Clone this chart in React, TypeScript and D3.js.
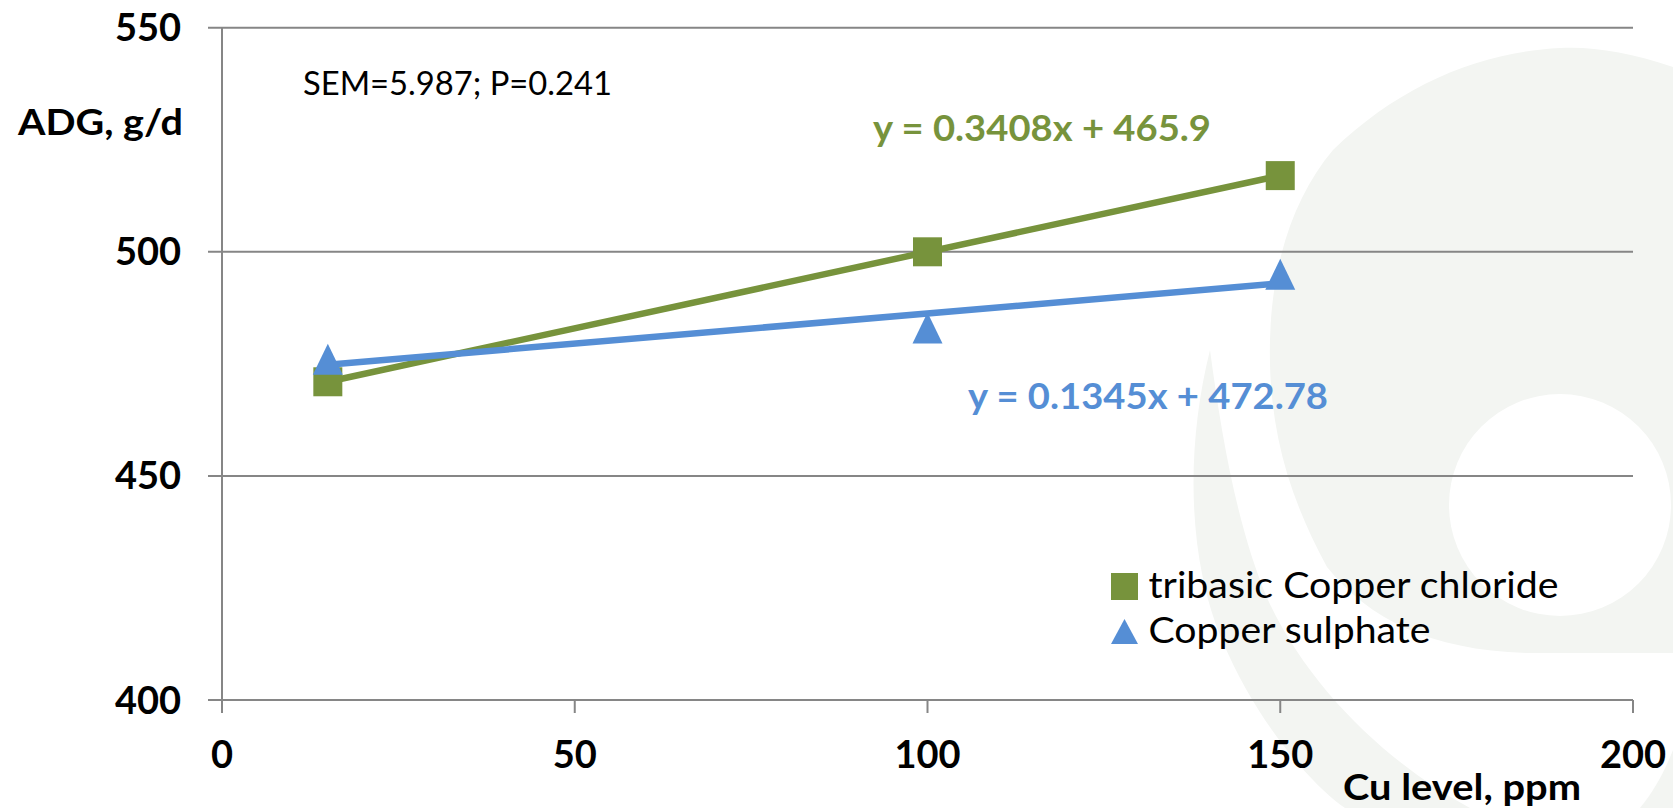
import React from "react";
import * as d3 from "d3";

const cuLevels = [15, 100, 150];
const chlorideADG = [471, 500, 517];
const sulphateADG = [476, 483, 495];
const seriesNames = ["tribasic Copper chloride", "Copper sulphate"];
const equationLabels = ["y = 0.3408x + 465.9", "y = 0.1345x + 472.78"];
const xTicks = [0, 50, 100, 150, 200];
const yTicks = [400, 450, 500, 550];
const statsLabel = "SEM=5.987; P=0.241";
const yTitle = "ADG, g/d";
const xTitle = "Cu level, ppm";

const W = 1673;
const H = 808;
const GREEN = "#77933C";
const BLUE = "#558ED5";
const GRID = "#868686";
const WM = "#f3f5f2";
const FONT = "Lato, 'Open Sans', sans-serif";

function linReg(xs: number[], ys: number[]) {
  const mx = d3.mean(xs) as number;
  const my = d3.mean(ys) as number;
  let num = 0;
  let den = 0;
  xs.forEach((x, i) => {
    num += (x - mx) * (ys[i] - my);
    den += (x - mx) * (x - mx);
  });
  const slope = num / den;
  return { slope, intercept: my - slope * mx };
}

export default function App() {
  const x = d3.scaleLinear().domain([0, 200]).range([222, 1633]);
  const y = d3.scaleLinear().domain([400, 550]).range([700, 27.7]);

  const series = [
    { name: seriesNames[0], values: chlorideADG, color: GREEN, shape: "square", eq: equationLabels[0] },
    { name: seriesNames[1], values: sulphateADG, color: BLUE, shape: "triangle", eq: equationLabels[1] },
  ];

  const lineGen = d3
    .line<[number, number]>()
    .x((d) => x(d[0]))
    .y((d) => y(d[1]));

  const [xMin, xMax] = d3.extent(cuLevels) as [number, number];

  const squarePath = d3.symbol(d3.symbolSquare, 29 * 29)();
  const triPath = (cx: number, cy: number, w: number, h: number) =>
    `M${cx},${cy - h / 2}L${cx + w / 2},${cy + h / 2}L${cx - w / 2},${cy + h / 2}Z`;

  const eqPos = [
    { x: 873, y: 141, len: 338 },
    { x: 968, y: 409, len: 360 },
  ];

  return (
    <svg
      width={W}
      height={H}
      viewBox={`0 0 ${W} ${H}`}
      style={{ position: "absolute", left: 0, top: 0, background: "#fff" }}
      fontFamily={FONT}
    >
      {/* faint watermark */}
      <g>
        <path
          d="M1673 67 C1630 52 1590 46 1560 48 C1480 52 1400 85 1333 150 C1295 195 1272 260 1270 340 C1268 420 1285 490 1327 567 C1370 620 1430 650 1527 653 L1673 653 Z"
          fill={WM}
        />
        <circle cx={1560} cy={505} r={111} fill="#fff" />
        <path
          d="M1210 350 C1185 450 1188 560 1222 640 C1260 730 1318 790 1345 808 L1470 808 C1390 765 1310 690 1268 600 C1238 530 1222 440 1210 350 Z"
          fill={WM}
        />
        <path d="M1640 808 C1655 790 1665 770 1673 750 L1673 808 Z" fill={WM} />
      </g>

      {/* gridlines */}
      {yTicks.map((t) => (
        <line key={"g" + t} x1={208} x2={1633} y1={y(t)} y2={y(t)} stroke={GRID} strokeWidth={2} />
      ))}
      {/* y axis */}
      <line x1={x(0)} x2={x(0)} y1={y(550)} y2={713} stroke={GRID} strokeWidth={2} />
      {/* x ticks */}
      {xTicks.map((t) => (
        <line key={"xt" + t} x1={x(t)} x2={x(t)} y1={y(400)} y2={713} stroke={GRID} strokeWidth={2} />
      ))}

      {/* tick labels */}
      {yTicks.map((t) => (
        <text key={"yl" + t} x={181} y={y(t) + 13.5} textAnchor="end" fontSize={38} fontWeight={700} fill="#000">
          {t}
        </text>
      ))}
      {xTicks.map((t) => (
        <text key={"xl" + t} x={x(t)} y={768} textAnchor="middle" fontSize={38} fontWeight={700} fill="#000">
          {t}
        </text>
      ))}

      {/* titles */}
      <text x={183} y={135} textAnchor="end" fontSize={37} fontWeight={700} textLength={165} lengthAdjust="spacingAndGlyphs">
        {yTitle}
      </text>
      <text x={1343} y={800} fontSize={37} fontWeight={700} textLength={238} lengthAdjust="spacingAndGlyphs">
        {xTitle}
      </text>
      <text x={303} y={95} fontSize={32} textLength={309} lengthAdjust="spacingAndGlyphs">
        {statsLabel}
      </text>

      {/* trendlines */}
      {series.map((s) => {
        const { slope, intercept } = linReg(cuLevels, s.values);
        const pts: [number, number][] = [
          [xMin, intercept + slope * xMin],
          [xMax, intercept + slope * xMax],
        ];
        return <path key={"tl" + s.name} d={lineGen(pts) || ""} fill="none" stroke={s.color} strokeWidth={6.5} />;
      })}

      {/* markers */}
      {series.map((s) =>
        s.values.map((v, i) =>
          s.shape === "square" ? (
            <path key={s.name + i} d={squarePath || ""} transform={`translate(${x(cuLevels[i])},${y(v)})`} fill={s.color} />
          ) : (
            <path key={s.name + i} d={triPath(x(cuLevels[i]), y(v), 30, 31)} fill={s.color} />
          )
        )
      )}

      {/* equations */}
      {series.map((s, i) => (
        <text
          key={"eq" + i}
          x={eqPos[i].x}
          y={eqPos[i].y}
          fontSize={37}
          fontWeight={700}
          fill={s.color}
          textLength={eqPos[i].len}
          lengthAdjust="spacingAndGlyphs"
        >
          {s.eq}
        </text>
      ))}

      {/* legend */}
      <rect x={1111} y={573} width={27} height={27} fill={GREEN} />
      <text x={1148.5} y={598} fontSize={37} textLength={410} lengthAdjust="spacingAndGlyphs">
        {seriesNames[0]}
      </text>
      <path d={triPath(1124.5, 631.5, 27, 25)} fill={BLUE} />
      <text x={1148.5} y={643} fontSize={37} textLength={282} lengthAdjust="spacingAndGlyphs">
        {seriesNames[1]}
      </text>
    </svg>
  );
}
